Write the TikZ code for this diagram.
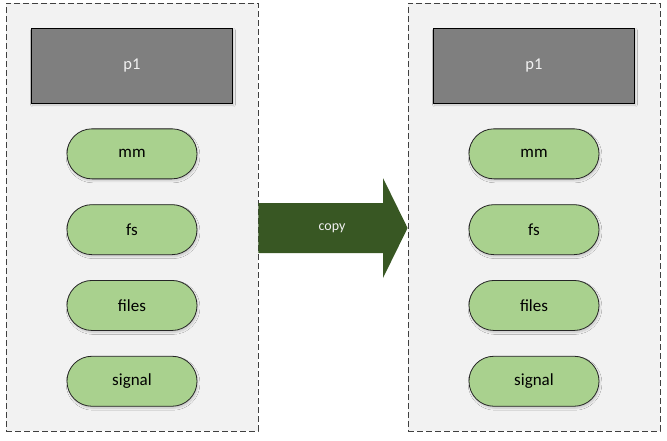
\documentclass[tikz,border=0pt]{standalone}
\usepackage{fontspec}
\setmainfont{Carlito}
\usepackage{tikz}
\usetikzlibrary{positioning,shadows.blur}
\definecolor{panelgray}{HTML}{F2F2F2}
\definecolor{procgray}{HTML}{7F7F7F}
\definecolor{pillgreen}{HTML}{A9D18E}
\definecolor{arrowgreen}{HTML}{385723}

\begin{document}
\begin{tikzpicture}[x=1pt, y=-1pt,
  panel/.style={draw=black!75, dash pattern=on 6pt off 3pt, line width=0.8pt,
    fill=panelgray, minimum width=252pt, minimum height=428pt, inner sep=0pt},
  proc/.style={draw=black, line width=0.9pt, fill=procgray, text=panelgray,
    minimum width=201pt, minimum height=75pt, inner sep=0pt,
    font=\fontsize{16.5}{19}\selectfont,
    blur shadow={shadow xshift=1pt, shadow yshift=-2pt, shadow opacity=18, shadow blur steps=6}},
  pill/.style={draw=black!85, line width=0.8pt, fill=pillgreen, rounded corners=24.9pt,
    minimum width=130pt, minimum height=50pt, inner sep=0pt,
    font=\fontsize{17}{20}\selectfont,
    blur shadow={shadow xshift=1pt, shadow yshift=-2pt, shadow opacity=18, shadow blur steps=6}},
  node distance=25pt]
\useasboundingbox (0,0) rectangle (667,440);
% left process
\node[panel] (lpanel) at (132,217) {};
\node[proc] (lp1) at (132,65.5) {p1};
\node[pill, below=of lp1] (lmm) {mm};
\node[pill, below=of lmm] (lfs) {fs};
\node[pill, below=of lfs] (lfiles) {files};
\node[pill, below=of lfiles] (lsignal) {signal};
% right process
\node[panel] (rpanel) at (534,217) {};
\node[proc] (rp1) at (534,65.5) {p1};
\node[pill, below=of rp1] (rmm) {mm};
\node[pill, below=of rmm] (rfs) {fs};
\node[pill, below=of rfs] (rfiles) {files};
\node[pill, below=of rfiles] (rsignal) {signal};
% copy arrow
\fill[arrowgreen] (lpanel.east |- 0,203) -- (383,203) -- (383,178)
  -- (rpanel.west |- 0,228) -- (383,278) -- (383,253) -- (lpanel.east |- 0,253) -- cycle;
\node[text=panelgray, font=\fontsize{14}{16}\selectfont] (copy) at (332,228) {copy};
\end{tikzpicture}
\end{document}
